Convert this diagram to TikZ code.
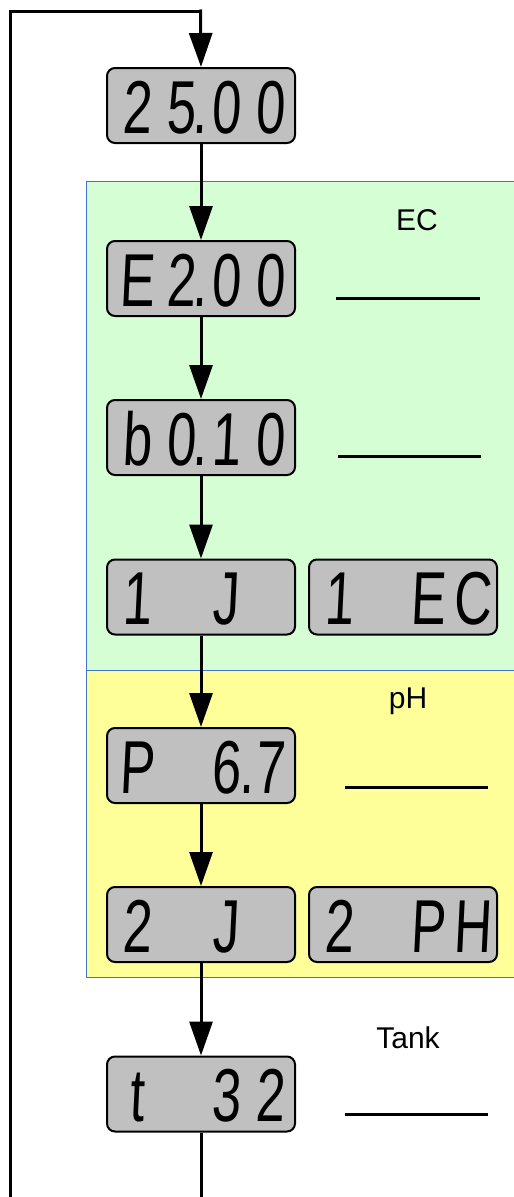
\documentclass[tikz,border=0pt]{standalone}
\usepackage{fontspec}
\setmainfont{Liberation Sans}
\newfontfamily\segfont[FakeSlant=0.07]{Liberation Sans}
\usetikzlibrary{arrows.meta}

\definecolor{lcdgray}{HTML}{C0C0C0}
\definecolor{ecgreen}{HTML}{D5FED5}
\definecolor{phyellow}{HTML}{FFFF99}
\definecolor{zoneline}{HTML}{4472C4}

\tikzset{
  lcd/.style={draw=black, line width=2pt, fill=lcdgray, rounded corners=8pt,
    minimum width=188pt, minimum height=75pt, inner sep=0pt},
  seg/.style={anchor=base, inner sep=0pt,
    font=\segfont\fontsize{75}{75}\selectfont},
  flow/.style={line width=3pt, -{Triangle[length=34pt,width=23pt]}},
  wire/.style={line width=3pt},
  blank/.style={line width=3pt},
  zone/.style={draw=zoneline, line width=0.8pt},
  tag/.style={font=\fontsize{30}{30}\selectfont, inner sep=0pt},
}

% decimal point hanging after a digit, taking no width of its own
\newcommand{\lcdmark}[1][0pt]{\rlap{\kern#1.}}

% one four-digit panel: name, centre x, centre y, four characters
\newcommand{\lcdpanel}[7]{%
  \node[lcd] (#1) at (#2,#3) {};
  \node[seg] (#1-c1) at ({#2-64},{#3+27.5}) {\scalebox{0.7}[1]{#4}};
  \node[seg] (#1-c2) at ({#2-20},{#3+27.5}) {\scalebox{0.7}[1]{#5}};
  \node[seg] (#1-c3) at ({#2+25},{#3+27.5}) {\scalebox{0.7}[1]{#6}};
  \node[seg] (#1-c4) at ({#2+69},{#3+27.5}) {\scalebox{0.7}[1]{#7}};
}

\begin{document}
\begin{tikzpicture}[x=1pt,y=-1pt]
\useasboundingbox (0,0) rectangle (514,1197);

% parameter groups
\filldraw[zone, fill=ecgreen] (86,181) rectangle (520,670);
\filldraw[zone, fill=phyellow] (86,670) rectangle (520,977);

\node[tag] (ec)   at (417,220)  {EC};
\node[tag] (ph)   at (408,701)  {pH};
\node[tag] (tank) at (408,1038) {Tank};

% panels
\lcdpanel{d1}{201}{105.5}{2}{5\lcdmark[-4pt]}{0}{0}
\lcdpanel{d2}{201}{278.5}{E}{2\lcdmark[-4pt]}{0}{0}
\lcdpanel{d3}{201}{437.5}{b}{0\lcdmark[-4pt]}{1}{0}
\lcdpanel{d4}{201}{597}{1}{}{J}{}
\lcdpanel{d4b}{403}{597}{1}{}{E}{C}
\lcdpanel{d5}{201}{765.5}{P}{}{6\lcdmark[-1pt]}{7}
\lcdpanel{d6}{201}{924.5}{2}{}{J}{}
\lcdpanel{d6b}{403}{924.5}{2}{}{P}{H}
\lcdpanel{d7}{201}{1094}{t}{}{3}{2}

% entry fields
\draw[blank] (336,298) -- (480,298);
\draw[blank] (338,456) -- (481,456);
\draw[blank] (345,787) -- (488,787);
\draw[blank] (345,1114) -- (488,1114);

% return loop
\coordinate (loopin)  at (10,1197);
\coordinate (loopbl)  at (10,11);
\coordinate (looptr)  at (202,11);
\coordinate (loopout) at (202,1197);
\draw[wire] (loopin) -- (loopbl) -- (looptr);
\draw[flow] ([xshift=-1.5pt]looptr) ++(0,-1.5) -- (d1.north);

% sequence
\draw[flow] (d1.south) -- (d2.north);
\draw[flow] (d2.south) -- (d3.north);
\draw[flow] (d3.south) -- (d4.north);
\draw[flow] (d4.south) -- (d5.north);
\draw[flow] (d5.south) -- (d6.north);
\draw[flow] (d6.south) -- (d7.north);
\draw[wire] (d7.south) -- (d7.south |- loopout);
\end{tikzpicture}
\end{document}
